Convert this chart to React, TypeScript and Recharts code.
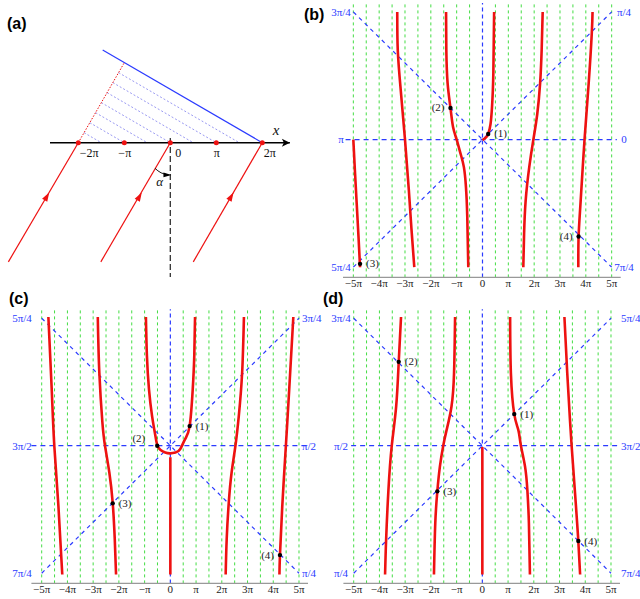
import React from 'react';
import { LineChart, Line, XAxis, YAxis, ReferenceLine, ReferenceDot } from 'recharts';

type Pt = { x: number; y: number };
const p = (x: number, y: number): Pt => ({ x, y });

const SERIF = "'Liberation Serif', 'DejaVu Serif', serif";
const SANS = "'Liberation Sans', Arial, sans-serif";
const RED = '#ee1111';
const BLUE = '#2b3bff';
const GREEN = '#44dd44';
const serifStyle = { fontFamily: SERIF };

// ---------- panel (a): schematic (x in units of pi) ----------
const aTicks = [-2, -1, 0, 1, 2];
const aTickLabels = ['−2π', '−π', '0', 'π', '2π'];
const aFront: Pt[] = [p(-1.47, 2.015), p(2, 0)];
const aShadow: Pt[] = [p(-2, 0), p(-1.0, 1.739)];
const aHatchEnds = [-1.5, -1, -0.5, 0, 0.5, 1, 1.5];
const aHatchStarts: Pt[] = [
  p(-1.875, 0.218), p(-1.75, 0.435), p(-1.625, 0.653), p(-1.499, 0.871),
  p(-1.374, 1.088), p(-1.249, 1.306), p(-1.124, 1.523),
];
const aRayStarts: Pt[] = [p(-3.52, -2.59), p(-1.51, -2.59), p(0.5, -2.59)];
const aRayEnds = [-2, 0, 2];
const aRayArrows: Pt[] = [p(-2.687, -1.174), p(-0.674, -1.174), p(1.32, -1.174)];
const aArc: Pt[] = [p(-0.333, -0.557), p(-0.2, -0.655), p(-0.04, -0.7)];
const aNormal: Pt[] = [p(0, 0.1), p(0, -2.92)];
const aAxis: Pt[] = [p(-2.615, 0), p(2.6, 0)];

// ---------- panels (b)-(d): x and y in units of pi ----------
const piTicks = [-5, -4, -3, -2, -1, 0, 1, 2, 3, 4, 5];
const piTickLabels = ['−5π', '−4π', '−3π', '−2π', '−π', '0', 'π', '2π', '3π', '4π', '5π'];
const guideLines = [-5, -4.5, -4, -3.5, -3, -2.5, -2, -1.5, -1, -0.5, 0.5, 1, 1.5, 2, 2.5, 3, 3.5, 4, 4.5, 5];
const angleLevels = [5, 0, -5];
const markLabels = ['(1)', '(2)', '(3)', '(4)'];

const bLeft = ['3π/4', 'π', '5π/4'];
const bRight = ['π/4', '0', '7π/4'];
const bCurves: Pt[][] = [
  [p(-5.0, 0), p(-4.94, -1.2), p(-4.87, -2.5), p(-4.8, -3.8), p(-4.74, -5.0)],
  [p(-3.3, 5), p(-3.28, 3.5), p(-3.17, 2), p(-3.0, 0), p(-2.85, -2), p(-2.75, -3.5), p(-2.64, -5)],
  [p(-1.41, 5), p(-1.4, 3.5), p(-1.35, 2.2), p(-1.24, 1.24), p(-1.14, 0.49), p(-1.0, 0), p(-0.85, -0.55),
    p(-0.72, -1.08), p(-0.64, -1.86), p(-0.59, -3.0), p(-0.55, -5)],
  [p(0, -0.02), p(0.12, 0.07), p(0.22, 0.22), p(0.31, 0.6), p(0.37, 1.3), p(0.42, 2.6), p(0.45, 5)],
  [p(1.58, -5), p(1.61, -3.7), p(1.67, -2.4), p(1.81, -1.08), p(1.97, 0), p(2.12, 1.0), p(2.23, 2.2),
    p(2.29, 3.5), p(2.33, 5)],
  [p(3.71, -5), p(3.72, -3.8), p(3.8, -2.4), p(3.95, 0), p(4.11, 2.2), p(4.23, 4.15), p(4.26, 5)],
];
const bMarks: Pt[] = [p(0.22, 0.22), p(-1.24, 1.24), p(-4.74, -4.87), p(3.72, -3.8)];

const cLeft = ['5π/4', '3π/2', '7π/4'];
const cRight = ['3π/4', 'π/2', 'π/4'];
const cCurves: Pt[][] = [
  [p(-4.74, 5.05), p(-4.61, 2.2), p(-4.51, 0), p(-4.35, -2.37), p(-4.2, -5.05)],
  [p(-2.82, 5.05), p(-2.76, 2.86), p(-2.64, 0.9), p(-2.54, 0), p(-2.37, -1.06), p(-2.24, -2.24),
    p(-2.16, -3.67), p(-2.11, -5.05)],
  [p(-0.95, 5.05), p(-0.91, 3.52), p(-0.83, 2.21), p(-0.71, 1.16), p(-0.58, 0.38), p(-0.5, 0.0),
    p(-0.38, -0.17), p(-0.2, -0.27), p(0, -0.3), p(0.2, -0.27), p(0.38, -0.14), p(0.57, 0.25),
    p(0.75, 0.77), p(0.87, 2.21), p(0.93, 3.52), p(0.96, 5.05)],
  [p(0, -0.45), p(0, -5.05)],
  [p(2.15, -5.05), p(2.19, -3.67), p(2.27, -2.24), p(2.38, -1.06), p(2.53, 0), p(2.66, 1.16),
    p(2.79, 2.86), p(2.86, 5.05)],
  [p(4.24, -5.05), p(4.26, -4.29), p(4.35, -2.37), p(4.49, 0), p(4.62, 2.21), p(4.78, 5.05)],
];
const cMarks: Pt[] = [p(0.75, 0.77), p(-0.51, 0.0), p(-2.24, -2.26), p(4.26, -4.29)];

const dLeft = ['3π/4', 'π/2', 'π/4'];
const dRight = ['5π/4', '3π/2', '7π/4'];
const dCurves: Pt[][] = [
  [p(-3.16, 5.05), p(-3.25, 3.29), p(-3.35, 1.53), p(-3.52, 0), p(-3.65, -1.74), p(-3.74, -3.7), p(-3.78, -5.05)],
  [p(-1.06, 5.05), p(-1.1, 2.84), p(-1.2, 1.53), p(-1.39, 0.61), p(-1.52, 0), p(-1.65, -0.82),
    p(-1.75, -1.79), p(-1.83, -3.05), p(-1.88, -5.05)],
  [p(0, -0.05), p(0, -5.05)],
  [p(1.08, 5.05), p(1.11, 2.84), p(1.24, 1.24), p(1.4, 0.61), p(1.5, 0), p(1.66, -0.82),
    p(1.75, -1.74), p(1.81, -3.05), p(1.85, -5.05)],
  [p(3.19, 5.05), p(3.3, 2.84), p(3.47, 0), p(3.64, -2.39), p(3.73, -3.74), p(3.8, -5.05)],
];
const dMarks: Pt[] = [p(1.24, 1.24), p(-3.25, 3.29), p(-1.75, -1.79), p(3.73, -3.74)];

const DOMAIN: [number, number] = [-5.4, 5.35];

function SchematicPanel() {
  const txt = { fontFamily: SERIF, style: serifStyle, fill: '#111' };
  return (
    <div style={{ position: 'absolute', left: 0, top: 0 }}>
      <LineChart width={300} height={290} margin={{ top: 0, right: 0, bottom: 0, left: 0 }}>
        <XAxis type="number" dataKey="x" domain={[-3.702, 2.82]} allowDataOverflow hide />
        <YAxis type="number" domain={[-3.202, 3.102]} allowDataOverflow hide />
        {aHatchStarts.map((s, i) => (
          <ReferenceLine key={'h' + i} segment={[s, p(aHatchEnds[i], 0)]} stroke="#7f7fee" strokeWidth={0.8} strokeDasharray="2 2" />
        ))}
        <ReferenceLine segment={aFront} stroke={BLUE} strokeWidth={1.2} />
        <ReferenceLine segment={aShadow} stroke={RED} strokeWidth={1} strokeDasharray="1.5 1.5" />
        {aRayStarts.map((s, i) => (
          <ReferenceLine key={'r' + i} segment={[s, p(aRayEnds[i], 0)]} stroke={RED} strokeWidth={1.2} />
        ))}
        <ReferenceLine segment={aNormal} stroke="#222" strokeWidth={1.2} strokeDasharray="6 3" />
        <ReferenceLine segment={aAxis} stroke="#000" strokeWidth={1.6} />
        <Line data={aArc} dataKey="y" type="natural" stroke="#000" strokeWidth={0.9} dot={false} activeDot={false} isAnimationActive={false} />
        {aRayArrows.map((a, i) => (
          <ReferenceDot key={'ah' + i} x={a.x} y={a.y} r={0}
            shape={(s: any) => (
              <path d="M5,0 L-4,-3 L-4,3 Z" fill={RED} transform={`translate(${s.cx},${s.cy}) rotate(-59.6)`} />
            )} />
        ))}
        <ReferenceDot x={aAxis[1].x} y={0} r={0}
          shape={(s: any) => <path d="M0,0 L-8,-4 L-6,0 L-8,4 Z" fill="#000" transform={`translate(${s.cx},${s.cy})`} />} />
        <ReferenceDot x={aArc[2].x} y={aArc[2].y} r={0}
          shape={(s: any) => <path d="M3,0 L-5,-2.4 L-5,2.4 Z" fill="#000" transform={`translate(${s.cx},${s.cy})`} />} />
        {aTicks.map((t, i) => (
          <ReferenceDot key={'t' + i} x={t} y={0} r={2.5}
            shape={(s: any) => {
              const anchor = t === -1 || t === 1 ? 'middle' : 'start';
              const dx = t === 0 ? 5 : anchor === 'start' ? 1.5 : 0.5;
              return (
                <g>
                  <circle cx={s.cx} cy={s.cy} r={2.5} fill={RED} />
                  <text x={s.cx + dx} y={s.cy + 14} textAnchor={anchor} fontSize={12} {...txt}>{aTickLabels[i]}</text>
                </g>
              );
            }} />
        ))}
        <ReferenceDot x={2.3} y={0.28} r={0}
          shape={(s: any) => <text x={s.cx} y={s.cy} dy="0.35em" textAnchor="middle" fontSize={15} fontStyle="italic" {...txt}>x</text>} />
        <ReferenceDot x={-0.23} y={-0.85} r={0}
          shape={(s: any) => <text x={s.cx} y={s.cy} dy="0.35em" textAnchor="middle" fontSize={13} fontStyle="italic" {...txt}>α</text>} />
      </LineChart>
    </div>
  );
}

type Anchor = 'start' | 'middle' | 'end';
type PanelProps = {
  left: number; top: number; width: number; height: number;
  leftW: number; rightW: number; topM: number; axisH: number;
  curves: Pt[][]; marks: Pt[]; sides: string[];
  leftLabels: string[]; rightLabels: string[];
  leftDx: number; leftAnchor: Anchor; rightDx: number; rightAnchor: Anchor;
  hLine: [number, number];
};

function angleTick(labels: string[], dx: number, anchor: Anchor) {
  return (t: any) => {
    const i = angleLevels.indexOf(t.payload.value);
    return (
      <text x={t.x + dx} y={t.y} dy="0.35em" textAnchor={anchor} fill={BLUE} fontSize={11}
        fontFamily={SERIF} style={serifStyle}>
        {labels[i]}
      </text>
    );
  };
}

function PhasePanel(props: PanelProps) {
  const { left, top, width, height, leftW, rightW, topM, axisH, curves, marks, sides } = props;
  return (
    <div style={{ position: 'absolute', left, top }}>
      <LineChart width={width} height={height} margin={{ top: topM, right: 0, bottom: 0, left: 0 }}>
        <XAxis type="number" dataKey="x" domain={DOMAIN} allowDataOverflow ticks={piTicks} interval={0}
          tickFormatter={(v: number) => piTickLabels[piTicks.indexOf(v)] ?? ''}
          tickLine={false} tickSize={0} tickMargin={2} height={axisH}
          axisLine={{ stroke: '#999', strokeWidth: 1.3 }}
          tick={{ fill: '#222', fontSize: 11, fontFamily: SERIF, style: serifStyle }} />
        <YAxis type="number" domain={DOMAIN} allowDataOverflow ticks={angleLevels} interval={0} width={leftW}
          axisLine={false} tickLine={false} tickSize={0} tickMargin={0}
          tick={angleTick(props.leftLabels, props.leftDx, props.leftAnchor)} />
        <YAxis yAxisId="r" orientation="right" type="number" domain={DOMAIN} allowDataOverflow ticks={angleLevels}
          interval={0} width={rightW} axisLine={false} tickLine={false} tickSize={0} tickMargin={0}
          tick={angleTick(props.rightLabels, props.rightDx, props.rightAnchor)} />
        {guideLines.map((g) => (
          <ReferenceLine key={'g' + g} x={g} stroke={GREEN} strokeWidth={1} strokeDasharray="3 3" />
        ))}
        <ReferenceLine x={0} stroke={BLUE} strokeWidth={1.2} strokeDasharray="4 3" />
        <ReferenceLine segment={[p(props.hLine[0], 0), p(props.hLine[1], 0)]} stroke={BLUE} strokeWidth={1.2} strokeDasharray="5 4" />
        <ReferenceLine segment={[p(-5, 5), p(5, -5)]} stroke={BLUE} strokeWidth={1.2} strokeDasharray="4 4" />
        <ReferenceLine segment={[p(-5, -5), p(5, 5)]} stroke={BLUE} strokeWidth={1.2} strokeDasharray="4 4" />
        {curves.map((c, i) => (
          <Line key={'c' + i} data={c} dataKey="y" type="natural" stroke={RED} strokeWidth={2.6}
            dot={false} activeDot={false} isAnimationActive={false} />
        ))}
        {marks.map((m, i) => (
          <ReferenceDot key={'m' + i} x={m.x} y={m.y} r={2}
            shape={(s: any) => {
              const side = sides[i];
              let tx = s.cx + 6;
              let ty = s.cy + 3.5;
              let anchor: Anchor = 'start';
              if (side === 'l') { tx = s.cx - 6; anchor = 'end'; }
              if (side === 'ul') { tx = s.cx - 12; ty = s.cy - 3.5; anchor = 'end'; }
              return (
                <g>
                  <circle cx={s.cx} cy={s.cy} r={2.2} fill="#000" />
                  <text x={tx} y={ty} textAnchor={anchor} fontSize={11} fontFamily={SERIF} style={serifStyle} fill="#222">
                    {markLabels[i]}
                  </text>
                </g>
              );
            }} />
        ))}
      </LineChart>
    </div>
  );
}

export default function App() {
  const title = { fontFamily: SANS, fontWeight: 700, fontSize: 16, fill: '#000' } as const;
  return (
    <div style={{ position: 'absolute', left: 0, top: 0, width: 640, height: 599, background: '#fff', overflow: 'hidden' }}>
      <SchematicPanel />
      <PhasePanel left={310} top={0} width={330} height={300} leftW={33} rightW={19.3} topM={3} axisH={22.6}
        curves={bCurves} marks={bMarks} sides={['r', 'l', 'r', 'l']}
        leftLabels={bLeft} rightLabels={bRight} leftDx={-2} leftAnchor="middle" rightDx={3.3} rightAnchor="middle"
        hLine={[-5.3, 5.2]} />
      <PhasePanel left={0} top={290} width={330} height={309} leftW={31.4} rightW={22} topM={19.3} axisH={15.6}
        curves={cCurves} marks={cMarks} sides={['r', 'ul', 'r', 'l']}
        leftLabels={cLeft} rightLabels={cRight} leftDx={-9.4} leftAnchor="middle" rightDx={-6} rightAnchor="start"
        hLine={[-5.4, 5.35]} />
      <PhasePanel left={320} top={290} width={320} height={309} leftW={23.4} rightW={20} topM={19.3} axisH={15.6}
        curves={dCurves} marks={dMarks} sides={['r', 'r', 'r', 'r']}
        leftLabels={dLeft} rightLabels={dRight} leftDx={-2.4} leftAnchor="middle" rightDx={1} rightAnchor="start"
        hLine={[-5.1, 5.35]} />
      <svg width={640} height={599} style={{ position: 'absolute', left: 0, top: 0, pointerEvents: 'none' }}>
        <text x={7} y={28.6} {...title}>(a)</text>
        <text x={304} y={19.5} {...title}>(b)</text>
        <text x={9} y={303.6} {...title}>(c)</text>
        <text x={323} y={303.6} {...title}>(d)</text>
      </svg>
    </div>
  );
}
